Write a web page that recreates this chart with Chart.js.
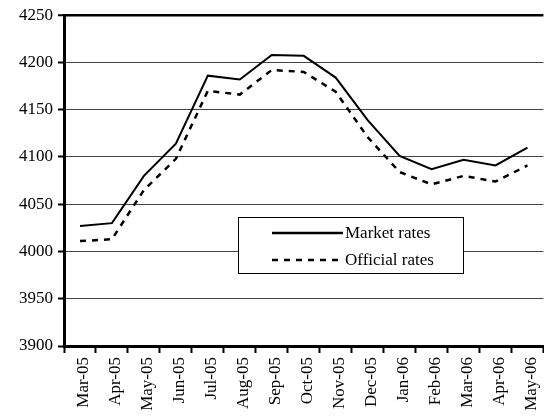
<!DOCTYPE html>
<html>
<head>
<meta charset="utf-8">
<script src="https://cdn.jsdelivr.net/npm/chart.js@4"></script>
<style>
  html, body { margin: 0; padding: 0; background: #fff; overflow: hidden; }
  #wrap { width: 544px; height: 419px; overflow: hidden; }
</style>
</head>
<body>
<div id="wrap"><canvas id="rates" width="552" height="419"></canvas></div>
<script>
const months = ['Mar-05', 'Apr-05', 'May-05', 'Jun-05', 'Jul-05', 'Aug-05', 'Sep-05', 'Oct-05',
  'Nov-05', 'Dec-05', 'Jan-06', 'Feb-06', 'Mar-06', 'Apr-06', 'May-06'];
const marketRates = [4027, 4030, 4080, 4114, 4186, 4182, 4208, 4207, 4184, 4139, 4101, 4087, 4097, 4091, 4110];
const officialRates = [4011, 4013, 4065, 4098, 4170, 4166, 4192, 4190, 4169, 4121, 4084, 4071, 4080, 4074, 4091];
const yMin = 3900;
const yMax = 4250;
const yStep = 50;

// legend drawn as a boxed key inside the plot, like the original
const boxLegend = {
  id: 'boxLegend',
  afterDraw (chart) {
    const ctx = chart.ctx;
    const box = { x: 238, y: 217, w: 225, h: 56 };
    ctx.save();
    ctx.fillStyle = '#fff';
    ctx.fillRect(box.x, box.y, box.w, box.h);
    ctx.strokeStyle = '#000';
    ctx.lineWidth = 1;
    ctx.strokeRect(box.x + 0.5, box.y + 0.5, box.w, box.h);
    chart.data.datasets.forEach((ds, i) => {
      const y = box.y + 16 + i * 27;
      ctx.beginPath();
      ctx.setLineDash(ds.borderDash || []);
      ctx.lineWidth = 2.5;
      ctx.strokeStyle = ds.borderColor;
      ctx.moveTo(272, y);
      ctx.lineTo(343, y);
      ctx.stroke();
      ctx.setLineDash([]);
      ctx.fillStyle = '#000';
      ctx.font = "17px 'Liberation Serif', 'Times New Roman', serif";
      ctx.textAlign = 'left';
      ctx.textBaseline = 'middle';
      ctx.fillText(ds.label, 345, y + 1);
    });
    ctx.restore();
  }
};

Chart.defaults.font.family = "'Liberation Serif', 'Times New Roman', serif";
Chart.defaults.font.size = 17;
Chart.defaults.color = '#000';

// eslint-disable-next-line no-undef
const ratesChart = new Chart('rates', {
  type: 'line',
  data: {
    labels: months,
    datasets: [
      { label: 'Market rates', data: marketRates, borderColor: '#000', borderWidth: 2, pointRadius: 0, tension: 0, fill: false },
      { label: 'Official rates', data: officialRates, borderColor: '#000', borderWidth: 2.5, borderDash: [6, 6], pointRadius: 0, tension: 0, fill: false }
    ]
  },
  options: {
    responsive: false,
    animation: false,
    layout: { padding: { top: 15, right: 4, left: 0, bottom: 0 } },
    plugins: {
      legend: { display: false },
      tooltip: { enabled: false }
    },
    scales: {
      x: {
        offset: true,
        afterFit: scale => { scale.height = 73; },
        border: { color: '#000', width: 3 },
        grid: { offset: true, drawOnChartArea: false, tickLength: 7, tickWidth: 2, tickColor: '#000' },
        ticks: { minRotation: 90, maxRotation: 90, padding: 4, labelOffset: 4, autoSkip: false }
      },
      y: {
        min: yMin,
        max: yMax,
        afterFit: scale => { scale.width = 64; },
        border: { color: '#000', width: 3 },
        grid: {
          color: ctx => ctx.tick && ctx.tick.value === yMax ? '#000' : '#444',
          lineWidth: ctx => ctx.tick && ctx.tick.value === yMax ? 2.5 : 1,
          tickLength: 6,
          tickWidth: 2,
          tickColor: '#000'
        },
        ticks: { stepSize: yStep, padding: 5, format: { useGrouping: false } }
      }
    }
  },
  plugins: [boxLegend]
});
</script>
</body>
</html>
